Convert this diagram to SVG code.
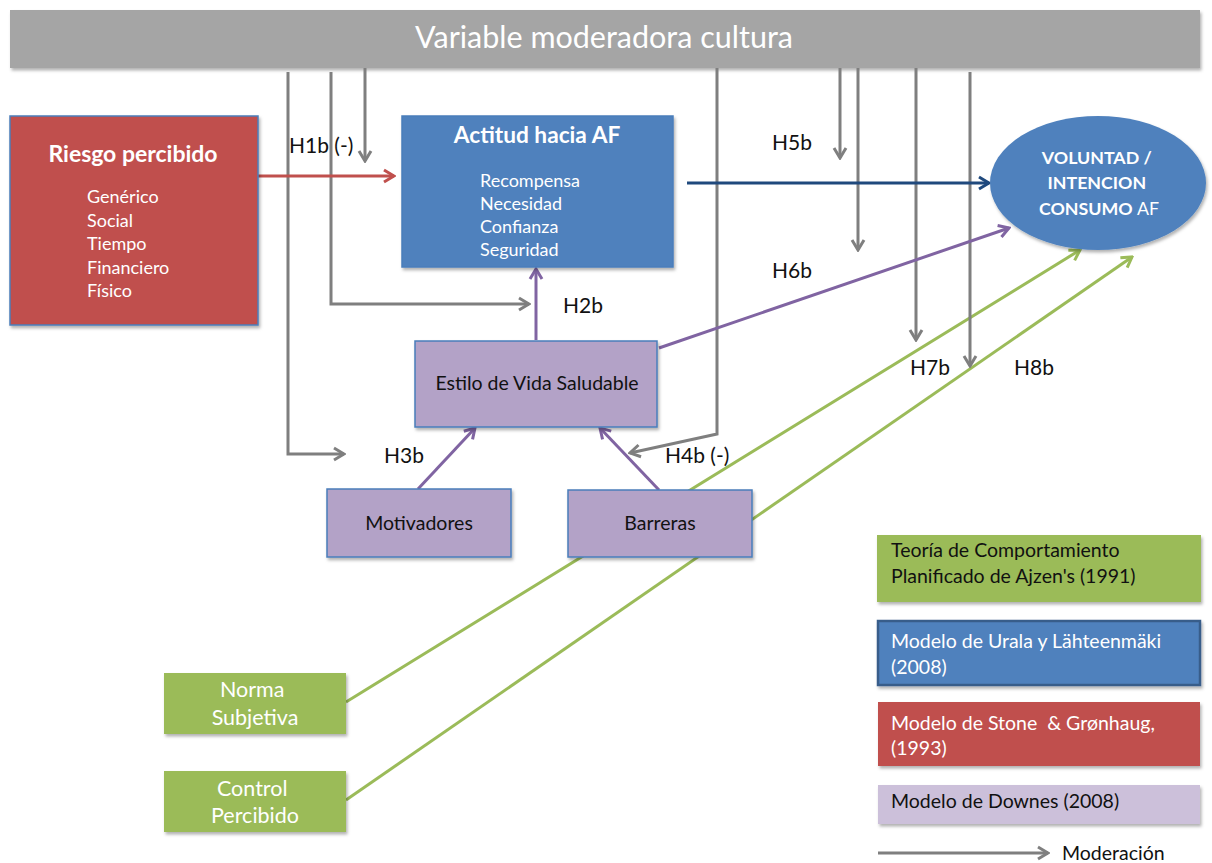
<svg xmlns="http://www.w3.org/2000/svg" width="1212" height="863" viewBox="0 0 1212 863">
  <style>
    text { font-family: Lato, "Open Sans", "Liberation Sans", sans-serif; }
    .w { fill: #ffffff; }
    .k { fill: #111111; }
    .b { font-weight: bold; }
    .mid { text-anchor: middle; }
    .item { font-size: 18px; }
    .lbl { font-size: 21px; fill: #111111; }
    .leg { font-size: 19.5px; }
    .node-t { font-size: 19.5px; }
    .box { stroke: #4a7ebb; stroke-width: 1.5; }
    .grey { fill: none; stroke: #7f7f7f; stroke-width: 3; marker-end: url(#ah-grey); }
    .red { fill: none; stroke: #c0504d; stroke-width: 3; marker-end: url(#ah-red); }
    .navy { fill: none; stroke: #1f497d; stroke-width: 3; marker-end: url(#ah-navy); }
    .purple { fill: none; stroke: #8064a2; stroke-width: 3; marker-end: url(#ah-purple); }
    .green { fill: none; stroke: #9bbb59; stroke-width: 3; marker-end: url(#ah-green); }
  </style>
  <defs>
    <filter id="sh" x="-5%" y="-5%" width="115%" height="125%">
      <feDropShadow dx="1.5" dy="2.5" stdDeviation="1.8" flood-color="#000" flood-opacity="0.3"/>
    </filter>
    <marker id="ah-grey" markerUnits="userSpaceOnUse" viewBox="0 0 16 16" markerWidth="16" markerHeight="16" refX="14" refY="8" orient="auto">
      <path d="M4,2 L14,8 L4,14" fill="none" stroke="#7f7f7f" stroke-width="3"/>
    </marker>
    <marker id="ah-red" markerUnits="userSpaceOnUse" viewBox="0 0 16 16" markerWidth="16" markerHeight="16" refX="14" refY="8" orient="auto">
      <path d="M4,2 L14,8 L4,14" fill="none" stroke="#c0504d" stroke-width="3"/>
    </marker>
    <marker id="ah-navy" markerUnits="userSpaceOnUse" viewBox="0 0 16 16" markerWidth="16" markerHeight="16" refX="14" refY="8" orient="auto">
      <path d="M4,2 L14,8 L4,14" fill="none" stroke="#1f497d" stroke-width="3"/>
    </marker>
    <marker id="ah-purple" markerUnits="userSpaceOnUse" viewBox="0 0 16 16" markerWidth="16" markerHeight="16" refX="14" refY="8" orient="auto">
      <path d="M4,2 L14,8 L4,14" fill="none" stroke="#8064a2" stroke-width="3"/>
    </marker>
    <marker id="ah-green" markerUnits="userSpaceOnUse" viewBox="0 0 16 16" markerWidth="16" markerHeight="16" refX="14" refY="8" orient="auto">
      <path d="M4,2 L14,8 L4,14" fill="none" stroke="#9bbb59" stroke-width="3"/>
    </marker>
  </defs>

  <rect width="1212" height="863" fill="#ffffff"/>

  <!-- moderator bar -->
  <g id="cultura">
    <rect x="10" y="10" width="1190" height="58" fill="#a5a5a5" filter="url(#sh)"/>
    <text x="604" y="48" class="w mid" font-size="30.5">Variable moderadora cultura</text>
  </g>

  <!-- connectors -->
  <g id="connectors">
    <!-- green paths (run beneath the boxes) -->
    <path class="green" d="M346,702 L1080,250"/>
    <path class="green" d="M346,800 L1132,257"/>
    <!-- moderation arrows from the cultura bar -->
    <path class="grey" d="M288,72 V454 H344"/>
    <path class="grey" d="M331,72 V304 H529"/>
    <path class="grey" d="M365,68 V161"/>
    <path class="grey" d="M717,68 V434 L630,453"/>
    <path class="grey" d="M840,68 V158"/>
    <path class="grey" d="M858,68 V250"/>
    <path class="grey" d="M916,68 V340"/>
    <path class="grey" d="M970,72 V366"/>
    <!-- hypotheses -->
    <path class="red" d="M258,176 L394,176"/>
    <path class="navy" d="M687,183 L989,183"/>
    <path class="purple" d="M659,348 L1009,228"/>
    <path class="purple" d="M536,340 L536,269"/>
    <path class="purple" d="M418,489 L475,428"/>
    <path class="purple" d="M659,490 L600,428"/>
    <!-- legend arrow -->
    <path class="grey" d="M878,853 L1048,853"/>
  </g>

  <!-- hypothesis labels -->
  <g id="labels">
    <text x="289" y="153" class="lbl">H1b (-)</text>
    <text x="772" y="150" class="lbl">H5b</text>
    <text x="772" y="278" class="lbl">H6b</text>
    <text x="563" y="313" class="lbl">H2b</text>
    <text x="910" y="375" class="lbl">H7b</text>
    <text x="1014" y="375" class="lbl">H8b</text>
    <text x="384" y="463" class="lbl">H3b</text>
    <text x="665" y="463" class="lbl">H4b (-)</text>
  </g>

  <g id="riesgo">
    <rect x="10" y="116" width="248" height="209" fill="#c0504d" class="box" filter="url(#sh)"/>
    <text x="133" y="162" class="w b mid" font-size="23">Riesgo percibido</text>
    <text class="w item">
      <tspan x="87" y="203">Genérico</tspan>
      <tspan x="87" y="227">Social</tspan>
      <tspan x="87" y="250">Tiempo</tspan>
      <tspan x="87" y="274">Financiero</tspan>
      <tspan x="87" y="297">Físico</tspan>
    </text>
  </g>

  <g id="actitud">
    <rect x="402" y="116" width="271" height="151" fill="#4f81bd" class="box" filter="url(#sh)"/>
    <text x="537" y="143" class="w b mid" font-size="22.7">Actitud hacia AF</text>
    <text class="w item">
      <tspan x="480" y="187">Recompensa</tspan>
      <tspan x="480" y="210">Necesidad</tspan>
      <tspan x="480" y="233">Confianza</tspan>
      <tspan x="480" y="256">Seguridad</tspan>
    </text>
  </g>

  <g id="voluntad">
    <ellipse cx="1098" cy="183" rx="108" ry="67" fill="#4f81bd" filter="url(#sh)"/>
    <text class="w b mid" font-size="17.8">
      <tspan x="1099" y="164">VOLUNTAD /</tspan>
      <tspan x="1099" y="189">INTENCION</tspan>
      <tspan x="1099" y="215">CONSUMO <tspan font-weight="normal">AF</tspan></tspan>
    </text>
  </g>

  <g id="estilo">
    <rect x="415" y="341" width="242" height="86" fill="#b3a2c7" class="box" filter="url(#sh)"/>
    <text x="537" y="390" class="k mid node-t">Estilo de Vida Saludable</text>
  </g>

  <g id="motivadores">
    <rect x="327" y="489" width="184" height="68" fill="#b3a2c7" class="box" filter="url(#sh)"/>
    <text x="419" y="530" class="k mid node-t">Motivadores</text>
  </g>

  <g id="barreras">
    <rect x="568" y="490" width="184" height="67" fill="#b3a2c7" class="box" filter="url(#sh)"/>
    <text x="660" y="530" class="k mid node-t">Barreras</text>
  </g>

  <g id="norma">
    <rect x="164" y="673" width="182" height="61" fill="#9bbb59" filter="url(#sh)"/>
    <text class="w mid" font-size="21.5">
      <tspan x="255" y="697">Norma</tspan>
      <tspan x="255" y="725">Subjetiva</tspan>
    </text>
  </g>

  <g id="control">
    <rect x="164" y="771" width="182" height="61" fill="#9bbb59" filter="url(#sh)"/>
    <text class="w mid" font-size="21.5">
      <tspan x="255" y="796">Control</tspan>
      <tspan x="255" y="823">Percibido</tspan>
    </text>
  </g>

  <!-- legend -->
  <g id="legend-ajzen">
    <rect x="877" y="535" width="324" height="67" fill="#9bbb59" filter="url(#sh)"/>
    <text class="k leg">
      <tspan x="891" y="557">Teoría de Comportamiento</tspan>
      <tspan x="891" y="583">Planificado de Ajzen's (1991)</tspan>
    </text>
  </g>
  <g id="legend-urala">
    <rect x="878" y="621" width="322" height="64" fill="#4f81bd" stroke="#385d8a" stroke-width="2.5" filter="url(#sh)"/>
    <text class="w leg">
      <tspan x="891" y="648">Modelo de Urala y Lähteenmäki</tspan>
      <tspan x="891" y="674">(2008)</tspan>
    </text>
  </g>
  <g id="legend-stone">
    <rect x="878" y="702" width="322" height="64" fill="#c0504d" filter="url(#sh)"/>
    <text class="w leg">
      <tspan x="891" y="730">Modelo de Stone&#160; &amp; Grønhaug,</tspan>
      <tspan x="891" y="755">(1993)</tspan>
    </text>
  </g>
  <g id="legend-downes">
    <rect x="878" y="785" width="322" height="39" fill="#ccc0da" filter="url(#sh)"/>
    <text x="891" y="808" class="k leg">Modelo de Downes (2008)</text>
  </g>
  <g id="legend-moderacion">
    <text x="1062" y="860" class="k leg">Moderación</text>
  </g>
</svg>
